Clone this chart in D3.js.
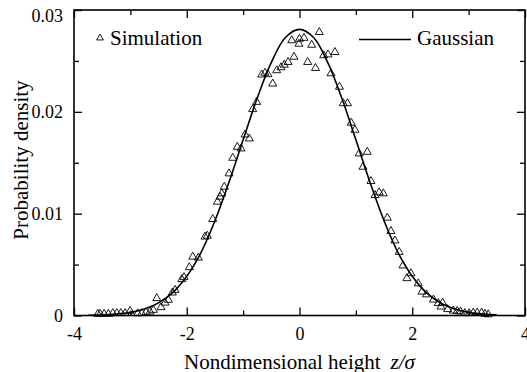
<!DOCTYPE html>
<html>
<head>
<meta charset="utf-8">
<script src="https://cdn.jsdelivr.net/npm/d3@7"></script>
<style>
  html, body { margin: 0; padding: 0; background: #fff; }
  svg { display: block; }
  text { font-family: "Liberation Serif", "Times New Roman", serif; fill: #000; }
</style>
</head>
<body>
<svg id="chart" width="527" height="372"></svg>
<script>
// Simulated height distribution (nondimensional height z/sigma, probability density)
const simX = [-3.578, -3.537, -3.466, -3.390, -3.312, -3.241, -3.170, -3.094, -3.005, -2.870,
  -2.798, -2.722, -2.651, -2.592, -2.532, -2.456, -2.385, -2.326, -2.255, -2.207,
  -2.089, -2.048, -1.954, -1.894, -1.794, -1.676, -1.635, -1.539, -1.457, -1.410,
  -1.379, -1.333, -1.250, -1.184, -1.103, -1.037, -0.966, -0.890, -0.830, -0.759,
  -0.670, -0.612, -0.559, -0.475, -0.404, -0.328, -0.270, -0.204, -0.138, -0.098,
  0.000, -0.009, 0.080, 0.145, 0.216, 0.284, 0.351, 0.429, 0.505, 0.559,
  0.629, 0.709, 0.777, 0.851, 0.918, 0.984, 1.059, 1.126, 1.202, 1.268,
  1.339, 1.413, 1.486, 1.557, 1.622, 1.693, 1.768, 1.835, 1.906, 1.977,
  2.106, 2.172, 2.252, 2.376, 2.461, 2.509, 2.539, 2.628, 2.727, 2.798,
  2.858, 2.934, 3.011, 3.082, 3.152, 3.230, 3.289, 3.348];
const simY = [0.00015, 0.00015, 0.00015, 0.00015, 0.00022, 0.00022, 0.00022, 0.00022, 0.00044, 0.00020,
  0.00022, 0.00031, 0.00037, 0.00054, 0.00169, 0.00080, 0.00125, 0.00152, 0.00224, 0.00250,
  0.00355, 0.00375, 0.00473, 0.00576, 0.00567, 0.00773, 0.00782, 0.00946, 0.01116, 0.01165,
  0.01198, 0.01263, 0.01394, 0.01547, 0.01655, 0.01639, 0.01776, 0.01737, 0.02025, 0.02096,
  0.02365, 0.02382, 0.02368, 0.02276, 0.02407, 0.02436, 0.02461, 0.02488, 0.02701, 0.02539,
  0.02716, 0.02667, 0.02725, 0.02488, 0.02657, 0.02429, 0.02782, 0.02554, 0.02562, 0.02377,
  0.02586, 0.02245, 0.02083, 0.02083, 0.01892, 0.01822, 0.01590, 0.01459, 0.01606, 0.01319,
  0.01181, 0.01208, 0.01198, 0.00959, 0.00828, 0.00735, 0.00623, 0.00490, 0.00365, 0.00414,
  0.00314, 0.00233, 0.00206, 0.00155, 0.00120, 0.00086, 0.00125, 0.00061, 0.00047, 0.00044,
  0.00037, 0.00022, 0.00022, 0.00027, 0.00027, 0.00027, 0.00015, 0.00010];

// Gaussian reference curve
const curveX = [-3.75, -3.5, -3.25, -3.0, -2.75, -2.5, -2.25, -2.0, -1.75, -1.5,
  -1.25, -1.0, -0.75, -0.5, -0.25, 0.0, 0.25, 0.5, 0.75, 1.0,
  1.25, 1.5, 1.75, 2.0, 2.25, 2.5, 2.75, 3.0, 3.25, 3.5];
const curveY = [0.00003, 0.00006, 0.00014, 0.00031, 0.00064, 0.00124, 0.00224, 0.00385, 0.00615, 0.00930,
  0.01310, 0.01725, 0.02135, 0.02485, 0.02730, 0.02810, 0.02730, 0.02485, 0.02135, 0.01725,
  0.01310, 0.00930, 0.00615, 0.00385, 0.00224, 0.00124, 0.00064, 0.00031, 0.00014, 0.00006];

// Axis ticks
const xMajor = [-4, -2, 0, 2, 4];
const xMinor = [-3, -1, 1, 3];
const yMajor = [0, 0.01, 0.02, 0.03];
const yMinor = [0.005, 0.015, 0.025];
const yLabels = ["0", "0.01", "0.02", "0.03"];

const svg = d3.select("#chart");
const plotLeft = 74, plotRight = 525, plotTop = 10, plotBottom = 315.5;

const x = d3.scaleLinear().domain([-4, 4]).range([plotLeft, plotRight]);
const y = d3.scaleLinear().domain([0, 0.03]).range([plotBottom, plotTop]);

const tickFont = 18;

function styleAxis(g) {
  g.select(".domain").remove();
  g.attr("font-family", null);
  g.selectAll(".tick line").attr("stroke", "#000").attr("stroke-width", 1.3);
  g.selectAll(".tick text")
    .attr("font-size", tickFont)
    .attr("fill", "#000");
}

// bottom axis (labels) + minor ticks
svg.append("g").attr("transform", `translate(0,${plotBottom})`)
  .call(d3.axisBottom(x).tickValues(xMajor).tickSizeInner(-8).tickSizeOuter(0).tickPadding(12)
    .tickFormat(d => String(d)))
  .call(styleAxis);
svg.append("g").attr("transform", `translate(0,${plotBottom})`)
  .call(d3.axisBottom(x).tickValues(xMinor).tickSizeInner(-5).tickSizeOuter(0).tickFormat(""))
  .call(styleAxis);

// top axis (mirror ticks)
svg.append("g").attr("transform", `translate(0,${plotTop})`)
  .call(d3.axisTop(x).tickValues(xMajor).tickSizeInner(-8).tickSizeOuter(0).tickFormat(""))
  .call(styleAxis);
svg.append("g").attr("transform", `translate(0,${plotTop})`)
  .call(d3.axisTop(x).tickValues(xMinor).tickSizeInner(-5).tickSizeOuter(0).tickFormat(""))
  .call(styleAxis);

// left axis; the topmost label sits a little below its tick so it stays inside the page
const leftAxis = svg.append("g").attr("transform", `translate(${plotLeft},0)`)
  .call(d3.axisLeft(y).tickValues(yMajor).tickSizeInner(-8).tickSizeOuter(0).tickPadding(11)
    .tickFormat((d, i) => yLabels[i]))
  .call(styleAxis);
leftAxis.selectAll(".tick text").filter(d => d === 0.03).attr("dy", "0.62em");
svg.append("g").attr("transform", `translate(${plotLeft},0)`)
  .call(d3.axisLeft(y).tickValues(yMinor).tickSizeInner(-5).tickSizeOuter(0).tickFormat(""))
  .call(styleAxis);

// right axis (mirror ticks)
svg.append("g").attr("transform", `translate(${plotRight},0)`)
  .call(d3.axisRight(y).tickValues(yMajor).tickSizeInner(-8).tickSizeOuter(0).tickFormat(""))
  .call(styleAxis);
svg.append("g").attr("transform", `translate(${plotRight},0)`)
  .call(d3.axisRight(y).tickValues(yMinor).tickSizeInner(-5).tickSizeOuter(0).tickFormat(""))
  .call(styleAxis);

// frame
svg.append("rect")
  .attr("x", plotLeft).attr("y", plotTop)
  .attr("width", plotRight - plotLeft).attr("height", plotBottom - plotTop)
  .attr("fill", "none").attr("stroke", "#000").attr("stroke-width", 1.6);

// Gaussian curve
const line = d3.line()
  .x((d, i) => x(curveX[i]))
  .y((d, i) => y(curveY[i]))
  .curve(d3.curveCatmullRom.alpha(0.5));
svg.append("path")
  .attr("d", line(curveX))
  .attr("fill", "none")
  .attr("stroke", "#000")
  .attr("stroke-width", 1.6);

// simulation markers
const tri = d3.symbol().type(d3.symbolTriangle).size(28);
svg.append("g").selectAll("path")
  .data(simX)
  .join("path")
  .attr("d", tri)
  .attr("transform", (d, i) => `translate(${x(d)},${y(simY[i])})`)
  .attr("fill", "none")
  .attr("stroke", "#000")
  .attr("stroke-width", 0.9);

// legend
svg.append("path")
  .attr("d", d3.symbol().type(d3.symbolTriangle).size(20)())
  .attr("transform", "translate(100,38)")
  .attr("fill", "none").attr("stroke", "#000").attr("stroke-width", 0.9);
svg.append("text").attr("x", 110).attr("y", 45)
  .attr("font-size", 21).text("Simulation");
svg.append("line")
  .attr("x1", 359).attr("x2", 411).attr("y1", 39.5).attr("y2", 39.5)
  .attr("stroke", "#000").attr("stroke-width", 1.6);
svg.append("text").attr("x", 417).attr("y", 45)
  .attr("font-size", 21).text("Gaussian");

// axis titles
const xt = svg.append("text")
  .attr("x", (plotLeft + plotRight) / 2).attr("y", 368.5)
  .attr("text-anchor", "middle")
  .attr("font-size", 21);
xt.append("tspan").text("Nondimensional height");
xt.append("tspan").attr("dx", 10).attr("font-style", "italic").text("z/σ");

svg.append("text")
  .attr("transform", "translate(28,160) rotate(-90)")
  .attr("text-anchor", "middle")
  .attr("font-size", 21)
  .text("Probability density");
</script>
</body>
</html>
